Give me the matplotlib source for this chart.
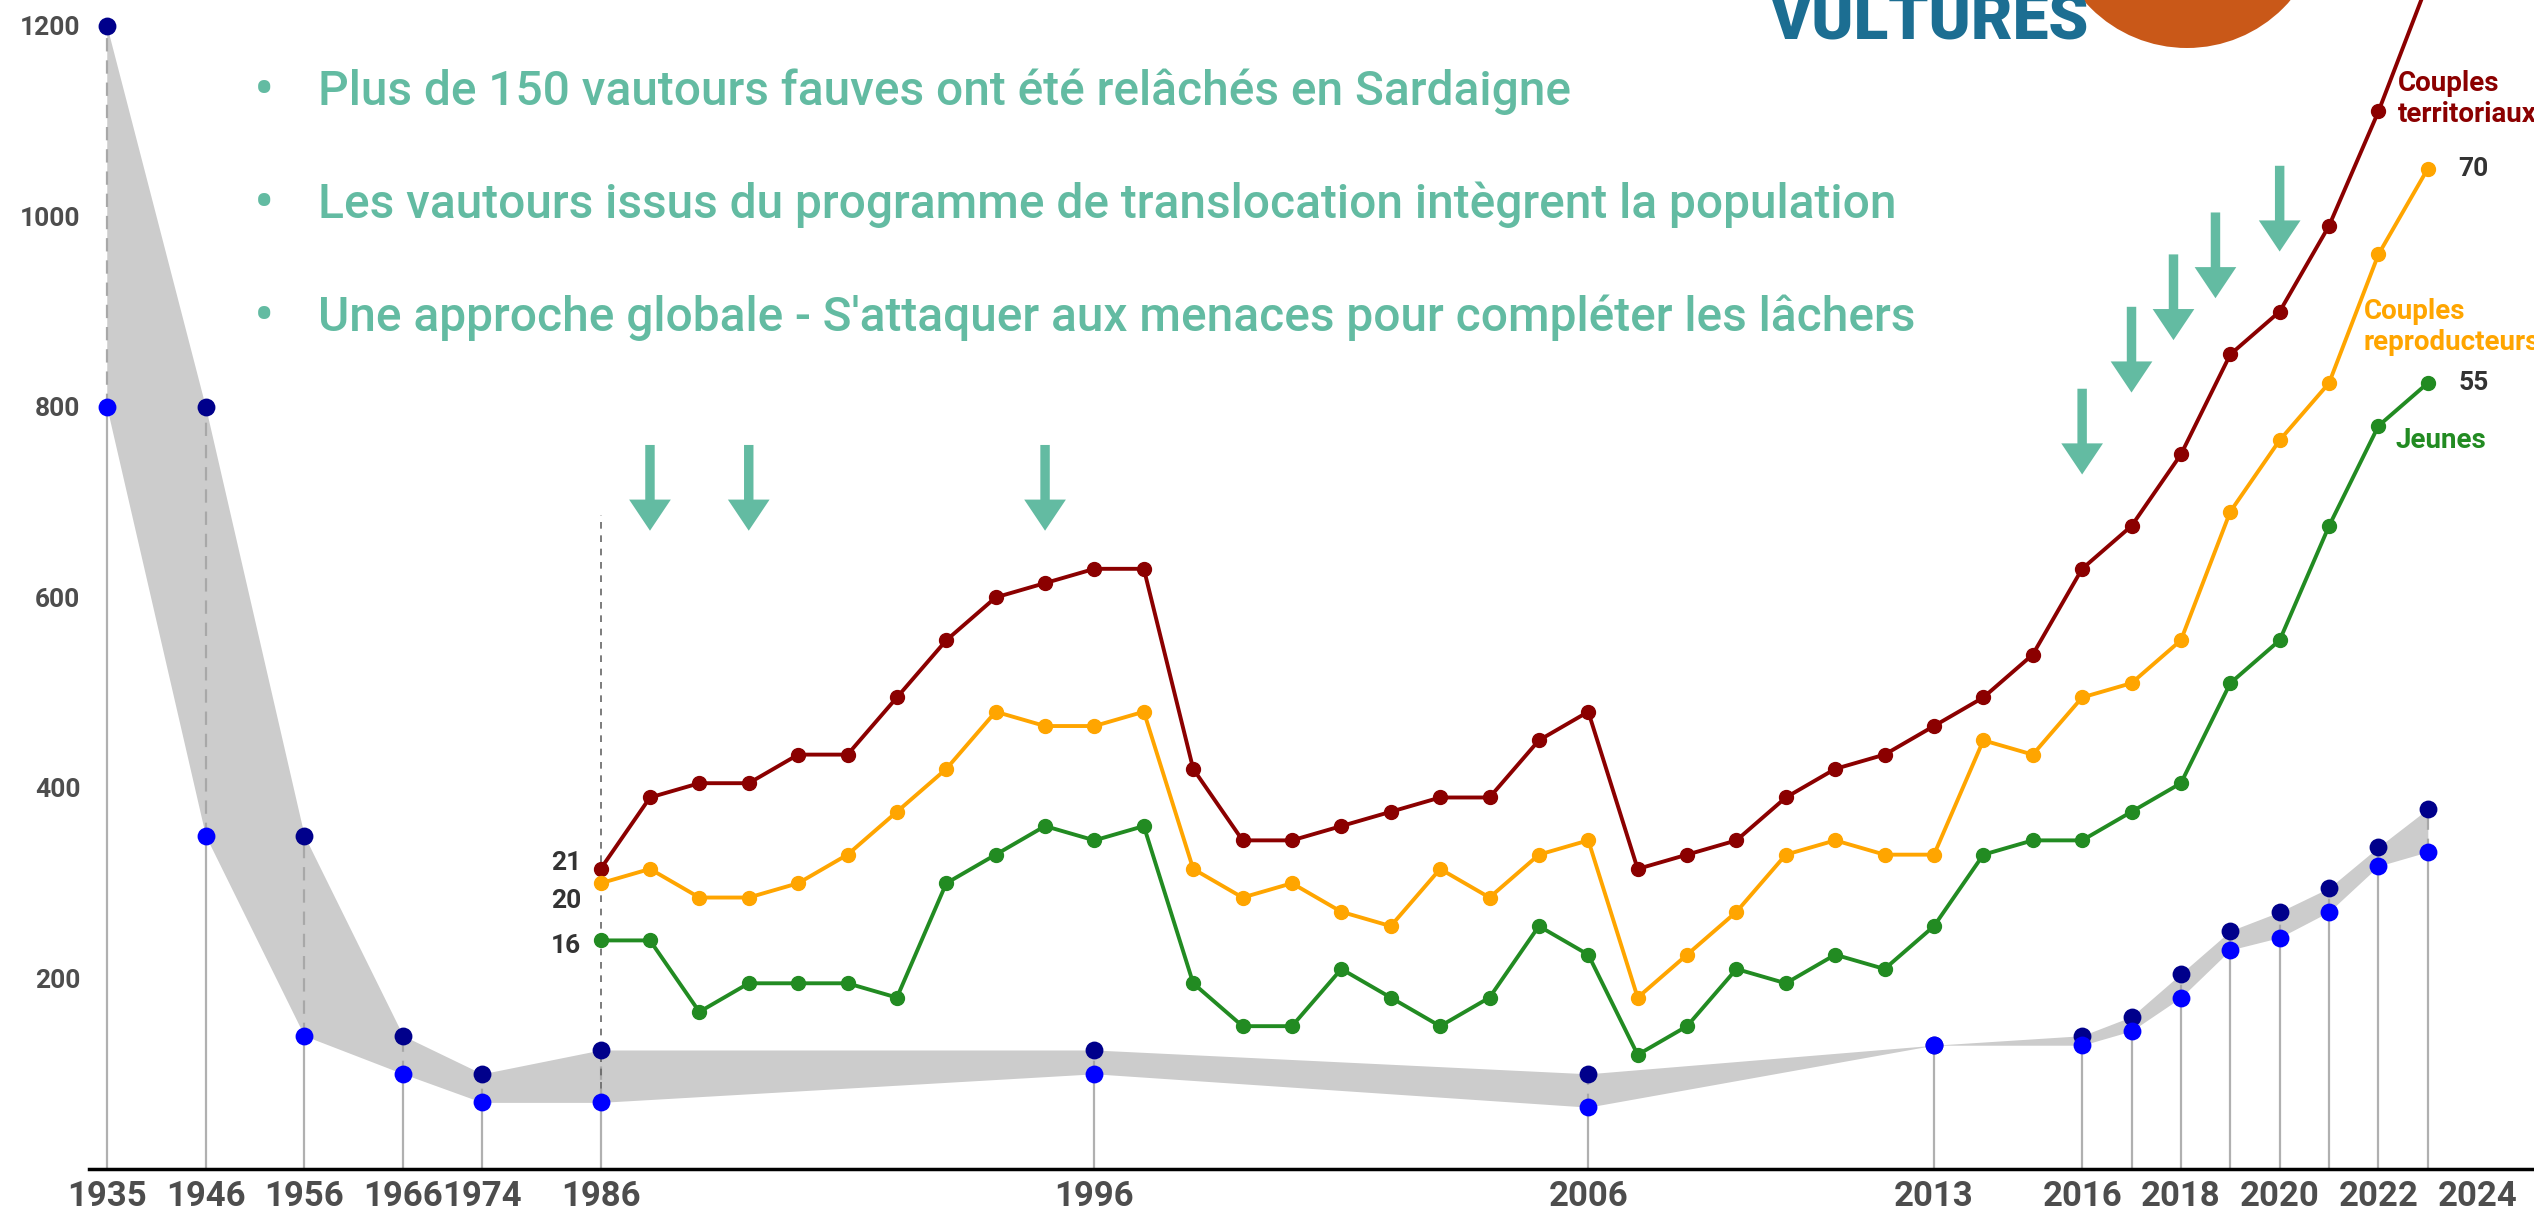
import matplotlib
matplotlib.use('Agg')
import matplotlib.pyplot as plt
from matplotlib.patches import Ellipse
import numpy as np

plt.rcParams['font.family'] = ['Roboto', 'DejaVu Sans']

# estimated number of individuals (low / high estimate)
pop_years = [1935, 1946, 1956, 1966, 1974, 1986, 1996, 2006, 2013,
             2016, 2017, 2018, 2019, 2020, 2021, 2022, 2023]
pop_high = [1200, 800, 350, 140, 100, 125, 125, 100, 130,
            140, 160, 205, 250, 270, 295, 338, 378]
pop_low = [800, 350, 140, 100, 70, 70, 100, 65, 130,
           130, 145, 180, 230, 243, 270, 318, 333]

# yearly monitoring of couples, 1986 - 2023
couple_years = list(range(1986, 2024))
territorial = [21, 26, 27, 27, 29, 29, 33, 37, 40, 41, 42, 42,
               28, 23, 23, 24, 25, 26, 26, 30, 32,
               21, 22, 23, 26, 28, 29, 31, 33, 36, 42,
               45, 50, 57, 60, 66, 74, 83]
breeding = [20, 21, 19, 19, 20, 22, 25, 28, 32, 31, 31, 32,
            21, 19, 20, 18, 17, 21, 19, 22, 23,
            12, 15, 18, 22, 23, 22, 22, 30, 29, 33,
            34, 37, 46, 51, 55, 64, 70]
young = [16, 16, 11, 13, 13, 13, 12, 20, 22, 24, 23, 24,
         13, 10, 10, 14, 12, 10, 12, 17, 15,
         8, 10, 14, 13, 15, 14, 17, 22, 23, 23,
         25, 27, 34, 37, 45, 52, 55]

release_years = [1987, 1989, 1995, 2016, 2017, 2018, 2019, 2020]

tick_years = [1935, 1946, 1956, 1966, 1974, 1986, 1996, 2006, 2013,
              2016, 2018, 2020, 2022, 2024]
y_ticks = [200, 400, 600, 800, 1000, 1200]

bullets = [
    "Plus de 150 vautours fauves ont été relâchés en Sardaigne",
    "Les vautours issus du programme de translocation intègrent la population",
    "Une approche globale - S'attaquer aux menaces pour compléter les lâchers",
]

# ---- styling -------------------------------------------------------------
teal = '#63bba2'
c_terr, c_breed, c_young = '#8b0000', '#ffa500', '#228b22'
num_col = '#333333'
tick_col = '#4d4d4d'
y_top = 1227
ratio = 15  # individuals axis / couples axis

# arrow tips (individuals scale) and small x nudges
arrow_tip = [670, 670, 670, 729, 815, 870, 914, 963]
arrow_dx = [0, 0, 0, 0, 0, -0.15, -0.3, 0]
arrow_len = 90

# compressed time axis before 1986
knot_years = np.array([1900, 1935, 1946, 1956, 1966, 1974, 1986, 2100])
knot_pos = np.array([1969.6, 1976, 1978, 1980, 1982, 1983.6, 1986, 2100])


def fwd(x):
    return np.interp(x, knot_years, knot_pos)


def inv(x):
    return np.interp(x, knot_pos, knot_years)


fig = plt.figure(figsize=(25.34, 12.14), dpi=100)
ax = fig.add_axes([0.035, 0.037, 0.965, 0.963])
ax.set_xscale('function', functions=(fwd, inv))
ax.set_xlim(1933, 2025.15)
ax.set_ylim(0, y_top)

# band + stems
ax.fill_between(pop_years, pop_low, pop_high, color='#cccccc', lw=0, zorder=0.5)
ax.vlines(pop_years, 0, pop_low, colors='#b0b0b0', lw=1.6, zorder=1)
ax.vlines(pop_years, pop_low, pop_high, colors='#a8a8a8', lw=1.6,
          linestyles=(0, (6, 4)), zorder=1.5)
ax.vlines(1986, pop_low[5], 687, colors='#666666', lw=1.2,
          linestyles=(0, (4, 4)), zorder=1.6)
ax.scatter(pop_years, pop_high, s=165, color='#00008b', zorder=4, clip_on=False, lw=0)
ax.scatter(pop_years, pop_low, s=165, color='#0000ff', zorder=5, clip_on=False, lw=0)

# release arrows
for yr, tip, dx in zip(release_years, arrow_tip, arrow_dx):
    ax.annotate('', xy=(yr + dx, tip), xytext=(yr + dx, tip + arrow_len),
                arrowprops=dict(arrowstyle='simple,head_length=1.12,head_width=1.5,tail_width=0.34',
                                mutation_scale=20, fc=teal, ec='none', lw=0,
                                shrinkA=0, shrinkB=0), zorder=6)

# axis cosmetics
for s in ['left', 'top', 'right']:
    ax.spines[s].set_visible(False)
ax.spines['bottom'].set_linewidth(2.5)
ax.spines['bottom'].set_color('black')
ax.set_xticks(tick_years)
ax.set_xticklabels([str(t) for t in tick_years])
ax.set_yticks(y_ticks)
ax.tick_params(axis='x', length=0, pad=8, labelsize=25, labelcolor=tick_col)
ax.tick_params(axis='y', length=0, pad=6, labelsize=19, labelcolor=tick_col)
for lab in ax.get_xticklabels() + ax.get_yticklabels():
    lab.set_fontweight('bold')

# couples on a secondary (hidden) axis
ax2 = ax.twinx()
ax2.set_ylim(0, y_top / ratio)
ax2.axis('off')
for vals, col in [(territorial, c_terr), (breeding, c_breed), (young, c_young)]:
    ax2.plot(couple_years, vals, color=col, lw=2.8, marker='o', ms=10, zorder=3)

num_kw = dict(textcoords='offset points', ha='right', va='center',
              fontsize=19, fontweight='bold', color=num_col)
ax2.annotate(str(territorial[0]), (couple_years[0], territorial[0]), xytext=(-14, 4), **num_kw)
ax2.annotate(str(breeding[0]), (couple_years[0], breeding[0]), xytext=(-14, -13), **num_kw)
ax2.annotate(str(young[0]), (couple_years[0], young[0]), xytext=(-14, -4), **num_kw)
end_kw = dict(num_kw, ha='left')
ax2.annotate(str(breeding[-1]), (couple_years[-1], breeding[-1]), xytext=(22, 0), **end_kw)
ax2.annotate(str(young[-1]), (couple_years[-1], young[-1]), xytext=(22, 0), **end_kw)

lab_kw = dict(ha='left', va='center', fontsize=20, fontweight='bold', linespacing=1.2)
ax2.text(2022.4, 74.9, 'Couples\nterritoriaux', color=c_terr, **lab_kw)
ax2.text(2021.7, 58.9, 'Couples\nreproducteurs', color=c_breed, **lab_kw)
ax2.text(2022.35, 51.0, 'Jeunes', color=c_young, **lab_kw)

# bullet points
for i, line in enumerate(bullets):
    y = 1 - (92 + i * 113) / 1214
    fig.text(264 / 2534, y, '•', color=teal, fontsize=44, va='center', ha='center')
    fig.text(318 / 2534, y, line, color=teal, fontsize=34.5, fontweight='medium',
             va='center', ha='left')

# logo fragment in the top right corner
fig.add_artist(Ellipse((2187 / 2534, 1 + 88 / 1214), 272 / 2534, 272 / 1214,
                       transform=fig.transFigure, color='#c95818', lw=0))
fig.text(1769 / 2534, 1 - 40 / 1214, 'VULTURES', fontsize=46, fontweight='heavy',
         color='#1c6e92', va='baseline', ha='left')

fig.savefig('out.png', dpi=100)
